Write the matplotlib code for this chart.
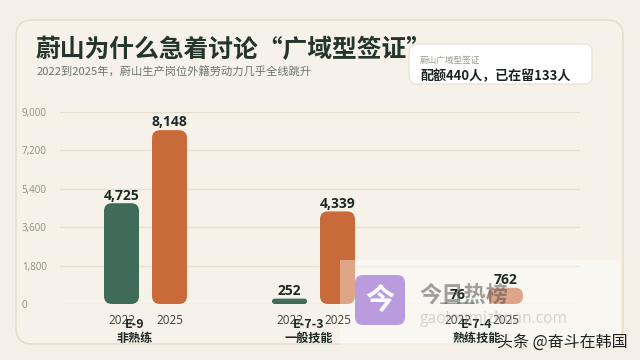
import matplotlib
matplotlib.use("Agg")
import matplotlib.pyplot as plt
from matplotlib.patches import FancyBboxPatch, Rectangle

plt.rcParams['font.family'] = ['Noto Sans CJK SC', 'DejaVu Sans']

groups = ["E-9", "E-7-3", "E-7-4"]
group_names = ["非熟练", "一般技能", "熟练技能"]
years = ["2022", "2025"]
values_2022 = [4725, 252, 76]
values_2025 = [8148, 4339, 762]
yticks = [0, 1800, 3600, 5400, 7200, 9000]

W, H = 640, 360
BG = "#f4f0e8"
GREEN = "#3f6b58"
ORANGE = "#c96a3a"
DARK = "#1f2a24"

fig = plt.figure(figsize=(W / 100, H / 100), dpi=100, facecolor=BG)
bgax = fig.add_axes([0, 0, 1, 1])
bgax.set_xlim(0, W)
bgax.set_ylim(H, 0)
bgax.axis("off")

bgax.add_patch(FancyBboxPatch((16, 20), 607, 324, boxstyle="round,pad=0,rounding_size=16",
                              fc="#f6f2ea", ec="#e2dccb", lw=1))

bgax.text(36, 50, "蔚山为什么急着讨论“广域型签证”", fontsize=17.85, fontweight="bold", color="#24352c", va="center", ha="left")
bgax.text(37, 72, "2022到2025年，蔚山生产岗位外籍劳动力几乎全线跳升", fontsize=8.1, color="#6e7468", va="center", ha="left")

bgax.add_patch(FancyBboxPatch((409, 44), 183, 40, boxstyle="round,pad=0,rounding_size=8",
                              fc="white", ec="#e8e4da", lw=1, zorder=2))
bgax.text(420, 60, "蔚山广域型签证", fontsize=6.2, color="#9a9a90", va="center", ha="left", zorder=3)
bgax.text(420, 76, "配额440人，已在留133人", fontsize=9.4, fontweight="bold", color="#1c2420", va="center", ha="left", zorder=3)

ax = fig.add_axes([60 / W, 1 - 304 / H, 520 / W, 192 / H], facecolor="none")
ax.set_xlim(60, 580)
ax.set_ylim(0, 9000)
for s in ax.spines.values():
    s.set_visible(False)
ax.set_yticks(yticks)
ax.set_yticklabels([f"{v:,}" for v in yticks], fontsize=7, color="#8d8d80", family="Open Sans", ha="left")
ax.tick_params(axis="y", length=0, pad=27.5)
ax.grid(axis="y", color="#e4dfcf", lw=1)
ax.set_axisbelow(True)

group_start = 104
group_step = 168
bar_w = 35
gap = 48
xpos_2022 = [group_start + bar_w / 2 + i * group_step for i in range(3)]
xpos_2025 = [x + gap for x in xpos_2022]
group_label_x = [135, 309, 477]

y_per_px = 9000 / 192


def rounded(xc, v, color):
    h_px = v / y_per_px
    r = min(8, h_px / 2)
    p = FancyBboxPatch((xc - bar_w / 2, 0), bar_w, v,
                       boxstyle=f"round,pad=0,rounding_size={r}",
                       mutation_aspect=y_per_px, fc=color, ec="none", zorder=3)
    ax.add_patch(p)


for xs, vals, c in ((xpos_2022, values_2022, GREEN), (xpos_2025, values_2025, ORANGE)):
    for x, v in zip(xs, vals):
        rounded(x, v, c)
        ax.annotate(f"{v:,}", (x, v), xytext=(0, 0.5), textcoords="offset points",
                    ha="center", va="bottom", fontsize=10, fontweight="bold", color=DARK,
                    family="Open Sans", zorder=6, annotation_clip=False)

ticks = xpos_2022 + xpos_2025
ax.set_xticks(ticks)
ax.set_xticklabels([years[0]] * 3 + [years[1]] * 3, fontsize=8.4, color="#3a3f38", family="Open Sans")
ax.tick_params(axis="x", length=0, pad=7)
ax.xaxis.set_zorder(5)

# translucent overlay sits over the bars but under the labels
ax.add_patch(Rectangle((340, 260), 280, 85, fc="white", ec="none", alpha=0.4,
                       transform=bgax.transData, clip_on=False, zorder=4))

for i, (g, n) in enumerate(zip(groups, group_names)):
    ax.text(group_label_x[i], 324.5, g, ha="center", va="center", fontsize=9, fontweight="bold",
            color=DARK, zorder=7, transform=bgax.transData, clip_on=False)
    ax.text(group_label_x[i], 338.5, n, ha="center", va="center", fontsize=8.7, fontweight="bold",
            color=DARK, zorder=7, transform=bgax.transData, clip_on=False)

top = fig.add_axes([0, 0, 1, 1], facecolor="none")
top.set_xlim(0, W)
top.set_ylim(H, 0)
top.axis("off")
top.add_patch(FancyBboxPatch((355, 275), 50, 50, boxstyle="round,pad=0,rounding_size=8", fc="#b99bde", ec="none"))
top.text(380, 299, "今", fontsize=21, fontweight="bold", color="white", ha="center", va="center")
top.text(464, 295, "今日热榜", fontsize=16, fontweight="bold", color="#555555", alpha=0.55, ha="center", va="center")
top.text(420, 319, "gaoloumizhuan.com", fontsize=11.2, color="#999999", alpha=0.4, ha="left", va="center", family="Open Sans")
top.text(628, 342, "头条 @奋斗在韩国", fontsize=11.5, color="#222222", ha="right", va="center")

fig.savefig("out.png", dpi=100, facecolor=BG)
